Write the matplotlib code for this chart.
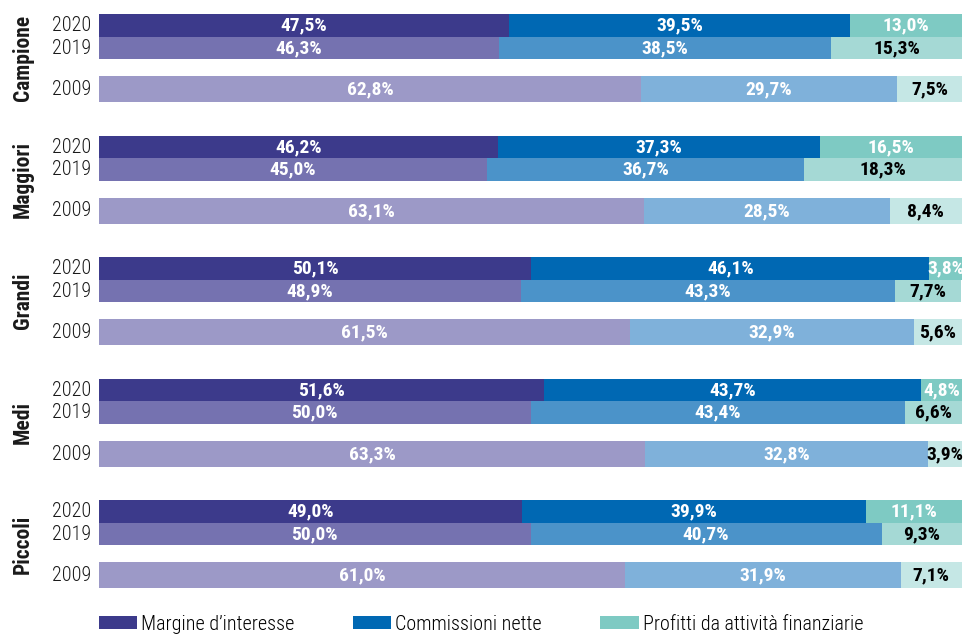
import matplotlib

matplotlib.use("Agg")
import matplotlib.pyplot as plt
from matplotlib.patches import Patch

plt.rcParams["font.family"] = ["Roboto Condensed", "DejaVu Sans"]

groups = ["Campione", "Maggiori", "Grandi", "Medi", "Piccoli"]
years = ["2020", "2019", "2009"]
components = ["Margine d’interesse", "Commissioni nette", "Profitti da attività finanziarie"]

# per gruppo: valori [2020, 2019, 2009]
margine = [[47.5, 46.3, 62.8], [46.2, 45.0, 63.1], [50.1, 48.9, 61.5], [51.6, 50.0, 63.3], [49.0, 50.0, 61.0]]
commissioni = [[39.5, 38.5, 29.7], [37.3, 36.7, 28.5], [46.1, 43.3, 32.9], [43.7, 43.4, 32.8], [39.9, 40.7, 31.9]]
profitti = [[13.0, 15.3, 7.5], [16.5, 18.3, 8.4], [3.8, 7.7, 5.6], [4.8, 6.6, 3.9], [11.1, 9.3, 7.1]]

colors = {
    "2020": ["#3c3a8b", "#0068b3", "#7ecac3"],
    "2019": ["#7572b0", "#4b93c9", "#a5d9d5"],
    "2009": ["#9c99c7", "#7fb1da", "#c5e7e5"],
}
text_colors = {
    "2020": ["white", "white", "white"],
    "2019": ["white", "white", "black"],
    "2009": ["white", "white", "black"],
}

W, H = 971, 635
fig = plt.figure(figsize=(W / 100, H / 100), dpi=100)
ax = fig.add_axes([99 / W, 0, 863 / W, 1])
ax.set_xlim(0, 100)
ax.set_ylim(H, 0)
ax.axis("off")

group_top = 14
group_pitch = 121.5
offsets = [0, 22.5, 62]
heights = [22.5, 22.5, 26]

for gi, g in enumerate(groups):
    top = group_top + gi * group_pitch
    for yi, yr in enumerate(years):
        y = top + offsets[yi]
        h = heights[yi]
        vals = [margine[gi][yi], commissioni[gi][yi], profitti[gi][yi]]
        left = 0
        for ci, v in enumerate(vals):
            ax.barh(y + h / 2, v, height=h, left=left, color=colors[yr][ci], linewidth=0)
            ax.text(left + v / 2, y + h / 2 + 0.5, f"{v:.1f}%".replace(".", ","),
                    ha="center", va="center", fontsize=14, fontweight="bold",
                    color=text_colors[yr][ci])
            left += v
        fig.text(91 / W, 1 - (y + h / 2 + 0.5) / H, yr, ha="right", va="center",
                 fontsize=14.5, fontweight=300, color="#1a1a1a")
    bottom = top + offsets[2] + heights[2]
    fig.text(23 / W, 1 - ((top + bottom) / 2) / H, g, rotation=90, ha="center",
             va="center", fontsize=15.5, fontweight="bold", color="#1a1a1a")

handles = [Patch(facecolor=c, edgecolor="none") for c in colors["2020"]]
fig.legend(handles, components, loc="center left", bbox_to_anchor=(99 / W, 1 - 624 / H),
           ncol=3, frameon=False, prop={"weight": 300, "size": 14.5}, borderpad=0,
           borderaxespad=0, handlelength=1.9, handleheight=0.6, handletextpad=0.2,
           columnspacing=2.9)

fig.savefig("out.png", dpi=100)
